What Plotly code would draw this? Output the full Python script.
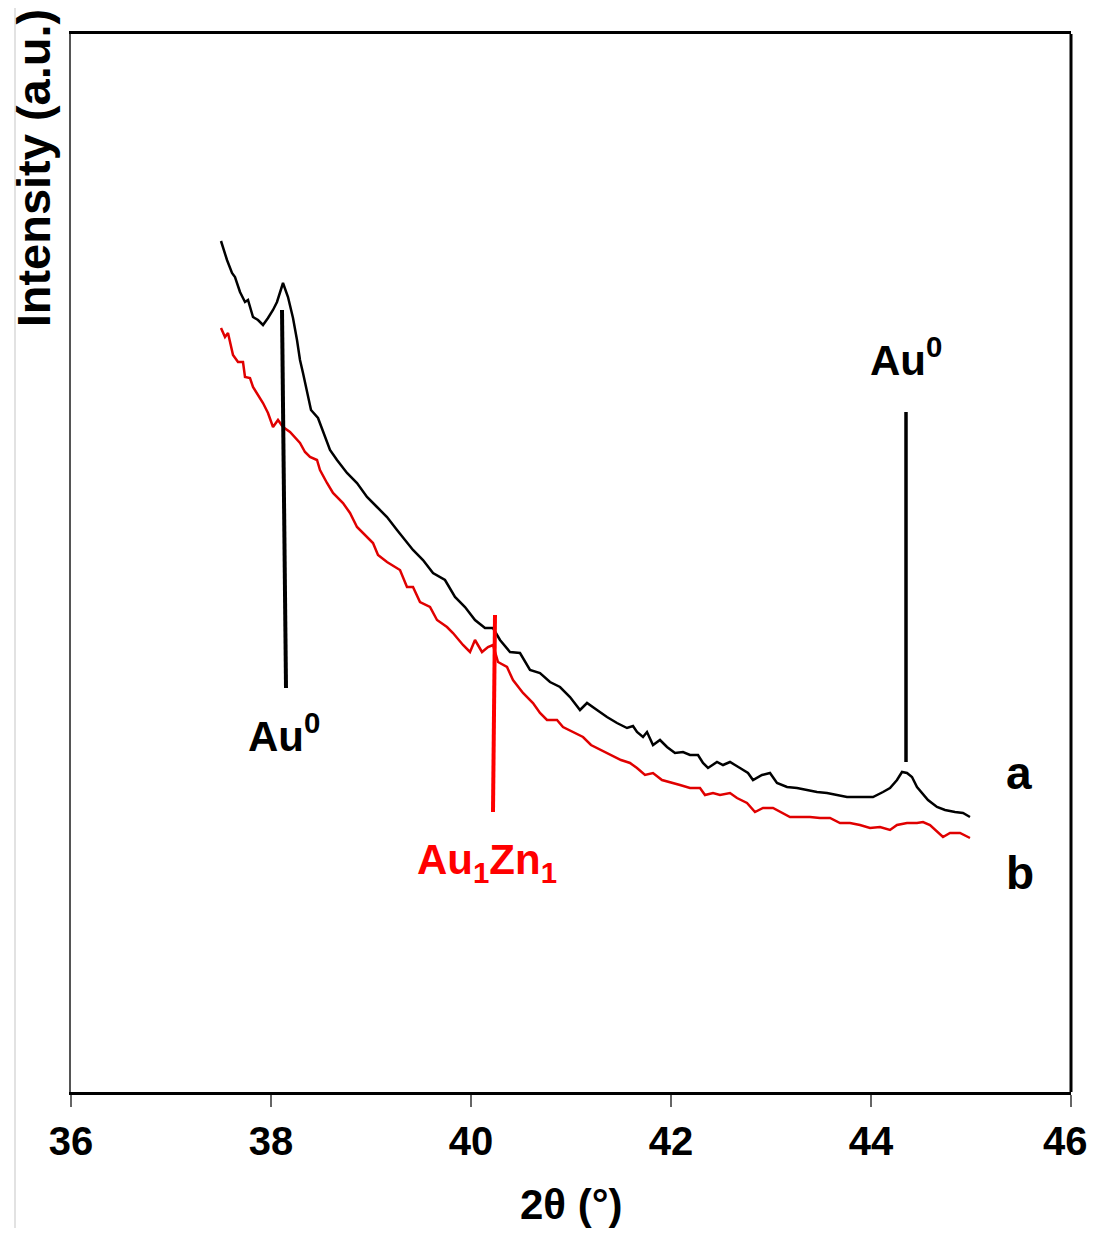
import plotly.graph_objects as go

# ---- data ----
two_theta_a = [37.50, 37.56, 37.61, 37.64, 37.69, 37.74, 37.77, 37.82, 37.87, 37.92, 37.97, 38.02, 38.06,
               38.12, 38.17, 38.22, 38.26, 38.29, 38.32, 38.36, 38.40, 38.47, 38.54, 38.59, 38.66, 38.76,
               38.86, 38.96, 39.06, 39.16, 39.26, 39.36, 39.42, 39.52, 39.62, 39.74, 39.84, 39.94, 40.04,
               40.14, 40.22, 40.29, 40.39, 40.49, 40.59, 40.69, 40.79, 40.89, 40.99, 41.09, 41.16, 41.26,
               41.36, 41.46, 41.56, 41.62, 41.66, 41.72, 41.76, 41.82, 41.89, 41.96, 42.04, 42.12, 42.19,
               42.27, 42.32, 42.37, 42.46, 42.52, 42.59, 42.69, 42.77, 42.82, 42.91, 42.99, 43.06, 43.16,
               43.26, 43.36, 43.46, 43.56, 43.66, 43.76, 43.86, 43.92, 44.02, 44.12, 44.19, 44.26, 44.31,
               44.36, 44.41, 44.46, 44.51, 44.57, 44.66, 44.74, 44.84, 44.92, 44.99]
intensity_a = [851, 832, 819, 815, 800, 790, 792, 775, 772, 767, 774, 782, 790,
               809, 795, 774, 752, 732, 719, 702, 682, 674, 655, 642, 632, 619,
               609, 595, 585, 575, 562, 549, 542, 532, 519, 512, 495, 485, 472,
               464, 464, 452, 440, 439, 422, 419, 410, 405, 395, 382, 389, 382,
               375, 369, 364, 366, 360, 355, 360, 347, 352, 345, 339, 340, 337,
               337, 329, 324, 330, 327, 330, 324, 319, 312, 317, 319, 309, 305,
               304, 302, 300, 299, 297, 295, 295, 295, 295, 300, 304, 312, 320,
               319, 315, 305, 299, 292, 285, 282, 280, 279, 275]

two_theta_b = [37.50, 37.54, 37.57, 37.62, 37.67, 37.72, 37.74, 37.79, 37.82, 37.87, 37.92, 37.97, 38.02,
               38.07, 38.12, 38.19, 38.24, 38.29, 38.34, 38.39, 38.46, 38.49, 38.56, 38.62, 38.72, 38.79,
               38.86, 38.92, 39.02, 39.07, 39.16, 39.29, 39.36, 39.42, 39.49, 39.59, 39.66, 39.76, 39.82,
               39.92, 39.99, 40.04, 40.11, 40.17, 40.22, 40.27, 40.36, 40.42, 40.52, 40.62, 40.69, 40.76,
               40.86, 40.92, 41.02, 41.12, 41.20, 41.30, 41.40, 41.50, 41.59, 41.66, 41.74, 41.82, 41.91,
               41.99, 42.09, 42.19, 42.29, 42.34, 42.42, 42.49, 42.59, 42.66, 42.76, 42.84, 42.92, 43.02,
               43.11, 43.19, 43.29, 43.39, 43.49, 43.59, 43.69, 43.79, 43.89, 43.99, 44.09, 44.19, 44.26,
               44.36, 44.46, 44.52, 44.59, 44.66, 44.72, 44.79, 44.89, 44.99]
intensity_b = [764, 755, 759, 737, 730, 730, 715, 714, 705, 697, 689, 679, 665,
               672, 665, 660, 655, 649, 640, 635, 632, 622, 609, 599, 589, 579,
               565, 559, 549, 537, 530, 522, 505, 505, 490, 485, 472, 465, 459,
               447, 440, 452, 440, 445, 447, 430, 425, 412, 399, 389, 379, 372,
               372, 365, 360, 355, 347, 342, 337, 332, 329, 324, 317, 319, 312,
               310, 307, 304, 304, 297, 299, 297, 299, 294, 289, 280, 284, 284,
               279, 275, 275, 275, 274, 274, 269, 269, 267, 264, 265, 262, 267,
               269, 269, 270, 267, 260, 255, 259, 259, 254]

x_ticks = [36, 38, 40, 42, 44, 46]
x_tick_labels = ["36", "38", "40", "42", "44", "46"]

# reference-peak marker lines: (x0, y0, x1, y1)
au0_left_line = (38.11, 782, 38.15, 404)
au0_right_line = (44.35, 680, 44.35, 330)
auzn_line = (40.24, 477, 40.22, 280)

FONT = "Arial, Liberation Sans, sans-serif"

fig = go.Figure()
fig.add_trace(go.Scatter(x=two_theta_a, y=intensity_a, mode="lines",
                         line=dict(color="black", width=2.5), hoverinfo="skip", showlegend=False))
fig.add_trace(go.Scatter(x=two_theta_b, y=intensity_b, mode="lines",
                         line=dict(color="#e00000", width=2.5), hoverinfo="skip", showlegend=False))

shapes = []
for (x0, y0, x1, y1), col, w in [(au0_left_line, "black", 4), (au0_right_line, "black", 3.5),
                                 (auzn_line, "#ff0000", 4)]:
    shapes.append(dict(type="line", xref="x", yref="y", x0=x0, y0=y0, x1=x1, y1=y1,
                       line=dict(color=col, width=w)))
# right frame edge
shapes.append(dict(type="line", xref="paper", yref="paper", x0=1, x1=1, y0=0, y1=1,
                   line=dict(color="black", width=3)))
# faint page border line on the left
shapes.append(dict(type="line", xref="paper", yref="paper", x0=-0.056, x1=-0.056, y0=-0.14, y1=1.03,
                   line=dict(color="#d8d8d8", width=1.5)))

annotations = [
    dict(x=38.13, y=359, xref="x", yref="y", text="<b>Au<sup>0</sup></b>", showarrow=False,
         font=dict(family=FONT, size=42, color="black")),
    dict(x=44.35, y=735, xref="x", yref="y", text="<b>Au<sup>0</sup></b>", showarrow=False,
         font=dict(family=FONT, size=42, color="black")),
    dict(x=40.16, y=230, xref="x", yref="y", text="<b>Au<sub>1</sub>Zn<sub>1</sub></b>", showarrow=False,
         font=dict(family=FONT, size=42, color="#ff0000")),
    dict(x=45.48, y=319, xref="x", yref="y", text="<b>a</b>", showarrow=False,
         font=dict(family=FONT, size=46, color="black")),
    dict(x=45.49, y=219, xref="x", yref="y", text="<b>b</b>", showarrow=False,
         font=dict(family=FONT, size=46, color="black")),
    dict(x=0.5, y=-0.1068, xref="paper", yref="paper", text="<b>2θ (°)</b>", showarrow=False,
         yanchor="middle", font=dict(family=FONT, size=42, color="black")),
    dict(x=-0.038, y=0.873, xref="paper", yref="paper", text="<b>Intensity (a.u.)</b>", showarrow=False,
         textangle=-90, xanchor="center", yanchor="middle",
         font=dict(family=FONT, size=47, color="black")),
    # last tick label, nudged so it stays inside the page
    dict(x=1.0175, y=-0.0463, xref="paper", yref="paper", text=f"<b>{x_tick_labels[-1]}</b>",
         showarrow=False, xanchor="right", yanchor="middle", borderpad=0,
         font=dict(family=FONT, size=40, color="black")),
]

fig.update_layout(
    width=1081, height=1220,
    margin=dict(l=63, r=18, t=26, b=136, autoexpand=False),
    paper_bgcolor="white", plot_bgcolor="white",
    shapes=shapes, annotations=annotations,
    xaxis=dict(range=[36, 46], tickvals=x_ticks,
               ticktext=[f"<b>{t}</b>" for t in x_tick_labels[:-1]] + [""],
               ticks="outside", ticklen=12, tickwidth=1.5, tickcolor="#666",
               automargin=False,
               showline=True, linecolor="black", linewidth=3, mirror=True,
               showgrid=False, zeroline=False,
               tickfont=dict(family=FONT, size=40, color="black")),
    yaxis=dict(range=[0, 1058], showticklabels=False, ticks="", showgrid=False, zeroline=False,
               showline=True, linecolor="#555", linewidth=2, automargin=False),
)

fig.write_html("out.html")
